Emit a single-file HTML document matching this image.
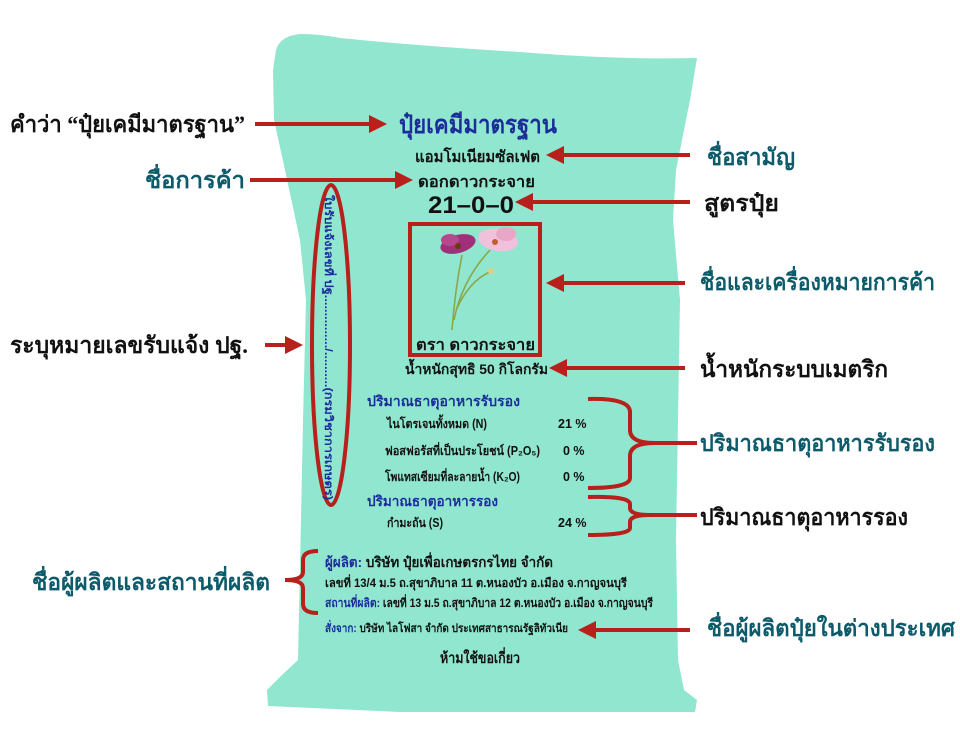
<!DOCTYPE html>
<html><head><meta charset="utf-8">
<style>
html,body{margin:0;padding:0;background:#fff;}
svg{display:block;}
.lab{font-family:"Liberation Serif","DejaVu Serif",serif;font-weight:bold;font-size:23px;}
.t{fill:#0c5a6a;}
.k{fill:#111;}
.bag{font-family:"Liberation Sans","DejaVu Sans",sans-serif;font-weight:bold;}
</style></head><body>
<svg width="960" height="750" viewBox="0 0 960 750" xmlns="http://www.w3.org/2000/svg">
<defs>
<marker id="ah" markerWidth="4.5" markerHeight="4.5" refX="3.5" refY="2.25" orient="auto" markerUnits="strokeWidth">
<path d="M0,0 L4.5,2.25 L0,4.5 z" fill="#b8201b"/></marker>
</defs>
<!-- bag -->
<path d="M276,50 Q280,36 300,34 Q320,34 340,38 Q420,46 520,52 Q620,60 697,58 L690,100 L676,170 L673,220 L680,300 L678,420 L676,540 L678,660 L684,690 L697,700 L695,712 L600,712 L400,712 L268,706 L267,690 L282,675 L298,660 L301,520 L303,420 L306,300 L300,240 L285,170 L274,120 L273,70 Z" fill="#90e6ce"/>

<!-- left labels -->
<text class="lab k" x="10" y="132" textLength="235" lengthAdjust="spacingAndGlyphs">คำว่า “ปุ๋ยเคมีมาตรฐาน”</text>
<text class="lab t" x="145" y="188" textLength="100" lengthAdjust="spacingAndGlyphs">ชื่อการค้า</text>
<text class="lab k" x="10" y="353" textLength="238" lengthAdjust="spacingAndGlyphs">ระบุหมายเลขรับแจ้ง ปฐ.</text>
<text class="lab t" x="32" y="590" textLength="238" lengthAdjust="spacingAndGlyphs">ชื่อผู้ผลิตและสถานที่ผลิต</text>
<!-- right labels -->
<text class="lab t" x="707" y="165" textLength="88" lengthAdjust="spacingAndGlyphs">ชื่อสามัญ</text>
<text class="lab k" x="704" y="211" textLength="75" lengthAdjust="spacingAndGlyphs">สูตรปุ๋ย</text>
<text class="lab t" x="700" y="290" textLength="235" lengthAdjust="spacingAndGlyphs">ชื่อและเครื่องหมายการค้า</text>
<text class="lab k" x="700" y="377" textLength="188" lengthAdjust="spacingAndGlyphs">น้ำหนักระบบเมตริก</text>
<text class="lab t" x="700" y="451" textLength="235" lengthAdjust="spacingAndGlyphs">ปริมาณธาตุอาหารรับรอง</text>
<text class="lab k" x="700" y="525" textLength="208" lengthAdjust="spacingAndGlyphs">ปริมาณธาตุอาหารรอง</text>
<text class="lab t" x="707" y="636" textLength="248" lengthAdjust="spacingAndGlyphs">ชื่อผู้ผลิตปุ๋ยในต่างประเทศ</text>

<!-- arrows -->
<g stroke="#b8201b" stroke-width="4" fill="none">
<line x1="255" y1="124" x2="383" y2="124" marker-end="url(#ah)"/>
<line x1="250" y1="180" x2="409" y2="180" marker-end="url(#ah)"/>
<line x1="265" y1="345" x2="299" y2="345" marker-end="url(#ah)"/>
<line x1="690" y1="155" x2="550" y2="155" marker-end="url(#ah)"/>
<line x1="690" y1="202" x2="519" y2="202" marker-end="url(#ah)"/>
<line x1="685" y1="283" x2="550" y2="283" marker-end="url(#ah)"/>
<line x1="685" y1="368" x2="553" y2="368" marker-end="url(#ah)"/>
<line x1="690" y1="630" x2="582" y2="630" marker-end="url(#ah)"/>
<!-- braces -->
<path d="M588,399 Q630,398 630,412 L630,430 Q630,443 655,443 L697,443 M655,443 Q630,443 630,456 L630,478 Q630,488 588,488"/>
<path d="M588,497 Q630,496 630,504 L630,508 Q630,515 650,515 L697,515 M650,515 Q630,515 630,522 L630,528 Q630,535 588,535"/>
<path d="M318,551 Q303,551 303,560 L303,572 Q303,580 285,580 M285,580 Q303,580 303,588 L303,604 Q303,613 318,613"/>
<ellipse cx="331" cy="345" rx="19" ry="160"/>
<rect x="410" y="224" width="130" height="131" stroke-width="4"/>
</g>

<!-- bag text -->
<g class="bag" style="font-size:12px">
<text x="399" y="133" font-size="25" fill="#1c2d9a" textLength="158" lengthAdjust="spacingAndGlyphs">ปุ๋ยเคมีมาตรฐาน</text>
<text x="415" y="162" font-size="16" fill="#111" textLength="125" lengthAdjust="spacingAndGlyphs">แอมโมเนียมซัลเฟต</text>
<text x="418" y="187" font-size="16" fill="#111" textLength="117" lengthAdjust="spacingAndGlyphs">ดอกดาวกระจาย</text>
<text x="428" y="213" font-size="24" fill="#111" textLength="86" lengthAdjust="spacingAndGlyphs">21–0–0</text>
<text x="416" y="350" font-size="16" fill="#111" textLength="119" lengthAdjust="spacingAndGlyphs">ตรา ดาวกระจาย</text>
<text x="405" y="374" font-size="14" fill="#111" textLength="143" lengthAdjust="spacingAndGlyphs">น้ำหนักสุทธิ 50 กิโลกรัม</text>
<text x="367" y="406" font-size="14" fill="#1c2d9a" textLength="153" lengthAdjust="spacingAndGlyphs">ปริมาณธาตุอาหารรับรอง</text>
<text x="387" y="428" font-size="12.5" fill="#111" textLength="100" lengthAdjust="spacingAndGlyphs">ไนโตรเจนทั้งหมด (N)</text>
<text x="558" y="428" font-size="12.5" fill="#111">21 %</text>
<text x="385" y="455" font-size="12.5" fill="#111" textLength="155" lengthAdjust="spacingAndGlyphs">ฟอสฟอรัสที่เป็นประโยชน์ (P₂O₅)</text>
<text x="563" y="455" font-size="12.5" fill="#111">0 %</text>
<text x="385" y="481" font-size="12.5" fill="#111" textLength="135" lengthAdjust="spacingAndGlyphs">โพแทสเซียมที่ละลายน้ำ (K₂O)</text>
<text x="563" y="481" font-size="12.5" fill="#111">0 %</text>
<text x="367" y="506" font-size="14" fill="#1c2d9a" textLength="131" lengthAdjust="spacingAndGlyphs">ปริมาณธาตุอาหารรอง</text>
<text x="387" y="527" font-size="12.5" fill="#111" textLength="56" lengthAdjust="spacingAndGlyphs">กำมะถัน (S)</text>
<text x="558" y="527" font-size="12.5" fill="#111">24 %</text>
<text x="325" y="567" font-size="14" fill="#111" textLength="228" lengthAdjust="spacingAndGlyphs"><tspan fill="#1c2d9a">ผู้ผลิต:</tspan> บริษัท ปุ๋ยเพื่อเกษตรกรไทย จำกัด</text>
<text x="325" y="587" font-size="12" fill="#111" textLength="302" lengthAdjust="spacingAndGlyphs">เลขที่ 13/4 ม.5 ถ.สุขาภิบาล 11 ต.หนองบัว อ.เมือง จ.กาญจนบุรี</text>
<text x="325" y="607" font-size="12" fill="#111" textLength="328" lengthAdjust="spacingAndGlyphs"><tspan fill="#1c2d9a">สถานที่ผลิต:</tspan> เลขที่ 13 ม.5 ถ.สุขาภิบาล 12 ต.หนองบัว อ.เมือง จ.กาญจนบุรี</text>
<text x="325" y="632" font-size="11.5" fill="#111" textLength="243" lengthAdjust="spacingAndGlyphs"><tspan fill="#1c2d9a">สั่งจาก:</tspan> บริษัท ไลโฟสา จำกัด ประเทศสาธารณรัฐลิทัวเนีย</text>
<text x="440" y="663" font-size="15" fill="#111" textLength="80" lengthAdjust="spacingAndGlyphs">ห้ามใช้ขอเกี่ยว</text>
<text transform="translate(325,195) rotate(90)" font-size="11" fill="#1c2d9a" textLength="305" lengthAdjust="spacingAndGlyphs">ใบรับแจ้งเลขที่ ปฐ.............../..........(กรมวิชาการเกษตร)</text>
</g>

<!-- flower -->
<g fill="none" stroke="#8aa84a" stroke-width="1.6">
<path d="M452,330 Q455,290 462,255"/>
<path d="M454,320 Q462,280 490,250"/>
<path d="M456,310 Q470,280 490,272"/>
</g>
<g>
<ellipse cx="458" cy="244" rx="18" ry="9" fill="#a0307a" transform="rotate(-15 458 244)"/>
<ellipse cx="450" cy="240" rx="9" ry="6" fill="#b8488c"/>
<circle cx="458" cy="246" r="3" fill="#6a3a10"/>
<ellipse cx="498" cy="240" rx="20" ry="11" fill="#f0c0dc" transform="rotate(10 498 240)"/>
<ellipse cx="506" cy="234" rx="10" ry="7" fill="#e9a6c8"/>
<circle cx="495" cy="242" r="3" fill="#c0602a"/>
<circle cx="491" cy="271" r="3" fill="#e0d080"/>
</g>
</svg>
</body></html>
